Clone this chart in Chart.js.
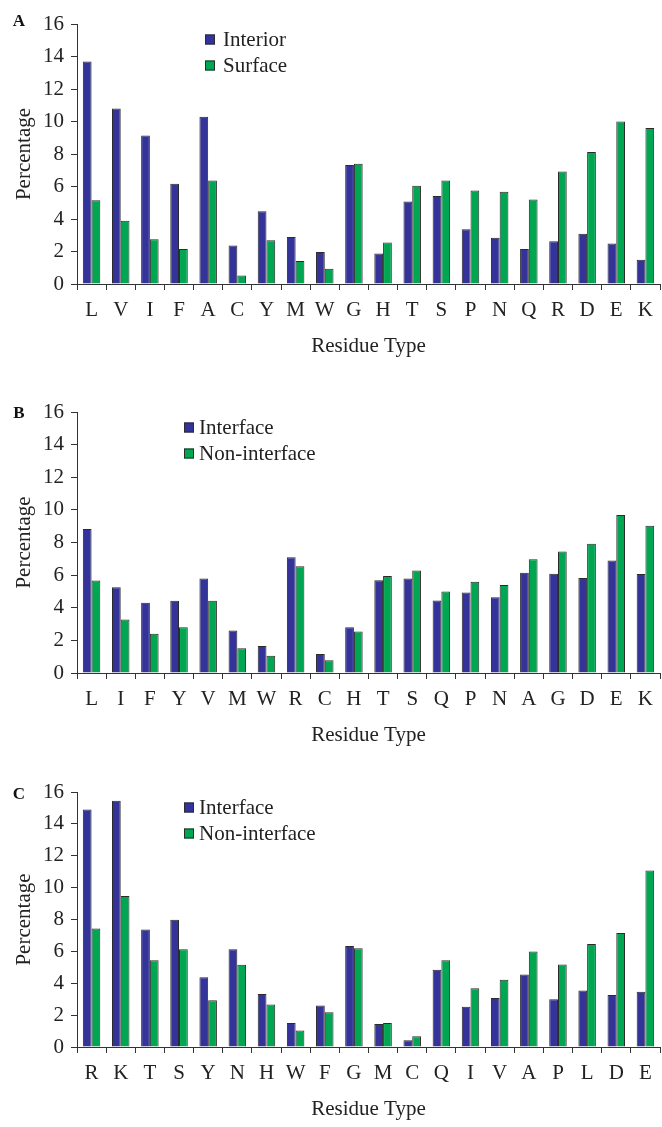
<!DOCTYPE html>
<html>
<head>
<meta charset="utf-8">
<script src="https://cdn.jsdelivr.net/npm/chart.js@4.4.1/dist/chart.umd.min.js"></script>
<style>
  html, body { margin: 0; padding: 0; background: #fff; overflow: hidden; }
  #page { position: relative; width: 662px; height: 1127px; }
  .panel { position: absolute; left: 0; width: 662px; }
</style>
</head>
<body>
<div id="page">
  <div class="panel" id="wrapA" style="top:0px;height:364px"><canvas id="chartA"></canvas></div>
  <div class="panel" id="wrapB" style="top:385px;height:368px"><canvas id="chartB"></canvas></div>
  <div class="panel" id="wrapC" style="top:765px;height:362px"><canvas id="chartC"></canvas></div>
</div>
<script>
'use strict';

// ─── Data ────────────────────────────────────────────────────────────────────

const residuesA = ['L','V','I','F','A','C','Y','M','W','G','H','T','S','P','N','Q','R','D','E','K'];
const interiorA = [13.7, 10.8, 9.14, 6.17, 10.3, 2.37, 4.47, 2.9, 1.97, 7.33, 1.88, 5.08, 5.42, 3.37, 2.84, 2.16, 2.63, 3.1, 2.5, 1.5];
const surfaceA  = [5.15, 3.9, 2.76, 2.16, 6.37, 0.52, 2.7, 1.41, 0.94, 7.4, 2.56, 6.04, 6.37, 5.76, 5.68, 5.2, 6.92, 8.12, 10.0, 9.6];

const residuesB    = ['L','I','F','Y','V','M','W','R','C','H','T','S','Q','P','N','A','G','D','E','K'];
const interfaceB    = [8.82, 5.25, 4.3, 4.43, 5.8, 2.6, 1.65, 7.1, 1.17, 2.8, 5.68, 5.8, 4.45, 4.93, 4.65, 6.15, 6.08, 5.82, 6.9, 6.07];
const nonInterfaceB = [5.67, 3.28, 2.4, 2.8, 4.43, 1.52, 1.05, 6.55, 0.78, 2.55, 5.95, 6.28, 5.0, 5.6, 5.4, 6.98, 7.45, 7.92, 9.68, 9.02];

const residuesC    = ['R','K','T','S','Y','N','H','W','F','G','M','C','Q','I','V','A','P','L','D','E'];
const interfaceC    = [14.9, 15.45, 7.37, 7.98, 4.37, 6.14, 3.33, 1.5, 2.6, 6.33, 1.45, 0.42, 4.84, 2.53, 3.08, 4.55, 3.0, 3.55, 3.27, 3.47];
const nonInterfaceC = [7.43, 9.48, 5.45, 6.13, 2.94, 5.16, 2.66, 1.03, 2.18, 6.2, 1.5, 0.68, 5.45, 3.68, 4.22, 6.0, 5.17, 6.46, 7.15, 11.08];

const Y_MIN = 0;
const Y_MAX = 16;
const Y_STEP = 2;

// ─── Style ───────────────────────────────────────────────────────────────────

const SERIF = "'Liberation Serif', 'Times New Roman', serif";
const BLUE  = '#333399';
const GREEN = '#00a651';
const EDGE  = '#2b2b2b';
const AXIS  = '#333333';
const TEXT  = '#222222';

Chart.defaults.font.family = SERIF;
Chart.defaults.font.size = 21;
Chart.defaults.color = TEXT;

// Legend squares + panel letter, drawn at fixed offsets from the plot top
const panelDecor = {
  id: 'panelDecor',
  afterDraw(chart, args, opts) {
    const ctx = chart.ctx;
    const top = chart.chartArea.top;
    ctx.save();
    ctx.textBaseline = 'middle';
    ctx.textAlign = 'left';
    ctx.font = `21px ${SERIF}`;
    chart.data.datasets.forEach((ds, i) => {
      const cy = top + opts.rows[i];
      ctx.fillStyle = ds.backgroundColor;
      ctx.fillRect(opts.x, cy - 5, 10, 10);
      ctx.strokeStyle = EDGE;
      ctx.lineWidth = 1;
      ctx.strokeRect(opts.x + 0.5, cy - 4.5, 9, 9);
      ctx.fillStyle = TEXT;
      ctx.fillText(ds.label, opts.x + opts.gap, cy + 1);
    });
    ctx.font = `bold 17px ${SERIF}`;
    ctx.textAlign = 'center';
    ctx.fillStyle = '#111';
    ctx.fillText(opts.letter, 19, top + opts.letterY);
    ctx.restore();
  },
};

// ─── Chart builder ───────────────────────────────────────────────────────────

function buildPanel(id, cfg) {
  const ctx = document.getElementById(id).getContext('2d');
  return new Chart(ctx, {
    type: 'bar',
    data: {
      labels: cfg.labels,
      datasets: [
        { label: cfg.names[0], data: cfg.first,  backgroundColor: BLUE,  borderColor: EDGE, borderWidth: 1 },
        { label: cfg.names[1], data: cfg.second, backgroundColor: GREEN, borderColor: EDGE, borderWidth: 1 },
      ],
    },
    options: {
      responsive: true,
      maintainAspectRatio: false,
      animation: false,
      layout: { padding: { top: cfg.padTop, right: 2, left: 0, bottom: 0 } },
      datasets: { bar: { categoryPercentage: 0.6, barPercentage: 1.0 } },
      plugins: {
        legend: { display: false },
        tooltip: { enabled: false },
        panelDecor: { rows: [15.5, 41.5], x: cfg.legendX, gap: cfg.legendGap, letter: cfg.letter, letterY: cfg.letterY },
      },
      scales: {
        x: {
          offset: true,
          grid: { offset: true, drawOnChartArea: false, drawTicks: true, tickLength: 6, color: AXIS, lineWidth: 1 },
          border: { color: AXIS, width: 1 },
          ticks: { padding: 8, color: TEXT, font: { size: 21 }, maxRotation: 0, autoSkip: false },
          title: { display: true, text: 'Residue Type', color: TEXT, font: { size: 21 }, padding: { top: 0, bottom: 5 } },
          afterFit: scale => { scale.height = 80; },
        },
        y: {
          min: Y_MIN,
          max: Y_MAX,
          ticks: { stepSize: Y_STEP, padding: 7, color: TEXT, font: { size: 21 } },
          grid: { drawOnChartArea: false, drawTicks: true, tickLength: 6, color: AXIS, lineWidth: 1 },
          border: { color: AXIS, width: 1 },
          title: { display: true, text: 'Percentage', color: TEXT, font: { size: 21 }, padding: { top: 12, bottom: 0 } },
          afterFit: scale => { scale.width = 77; },
        },
      },
    },
    plugins: [panelDecor],
  });
}

// ─── Init ────────────────────────────────────────────────────────────────────

window.addEventListener('DOMContentLoaded', () => {
  buildPanel('chartA', {
    labels: residuesA, first: interiorA, second: surfaceA,
    names: ['Interior', 'Surface'],
    padTop: 24, legendX: 205, legendGap: 18, letter: 'A', letterY: -2,
  });
  buildPanel('chartB', {
    labels: residuesB, first: interfaceB, second: nonInterfaceB,
    names: ['Interface', 'Non-interface'],
    padTop: 27, legendX: 184, legendGap: 15, letter: 'B', letterY: 2,
  });
  buildPanel('chartC', {
    labels: residuesC, first: interfaceC, second: nonInterfaceC,
    names: ['Interface', 'Non-interface'],
    padTop: 27, legendX: 184, legendGap: 15, letter: 'C', letterY: 3,
  });
});
</script>
</body>
</html>
